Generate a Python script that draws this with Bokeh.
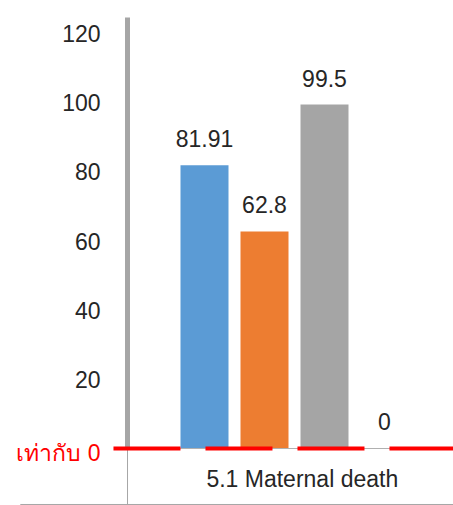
from bokeh.plotting import figure
from bokeh.models import ColumnDataSource, LabelSet, Label, FixedTicker, Range1d
from bokeh.core.properties import value
from bokeh.embed import file_html
from bokeh.resources import INLINE

# Chart data
category = "5.1 Maternal death"
series = ["Series 1", "Series 2", "Series 3", "Series 4"]
values = [81.91, 62.8, 99.5, 0]
colors = ["#5b9bd5", "#ed7d31", "#a5a5a5", "#ffc000"]
y_ticks = [20, 40, 60, 80, 100, 120]
zero_label = "เท่ากับ 0"

FONT = "Liberation Sans"
TEXT_COLOR = "#262626"
AXIS_GRAY = "#a6a6a6"

# the frame fills the whole canvas; axes are pinned inside it
x_start, x_end = -3.4, 4.15
y_start, y_end = -16.49, 129.6
axis_x = -1.283          # where the value axis stands
axis_top = 124.7         # top of the value axis line
cat_center = 1.63        # middle of the category cell
table_y = -16.2          # bottom border of the category cell
table_left = -3.07
zero_line_left = -1.517
zero_label_x = -1.733

src = ColumnDataSource(dict(
    x=list(range(len(values))),
    top=values,
    color=colors,
    label=[f"{v:g}" for v in values],
    name=series,
))

p = figure(width=453, height=505, output_backend="svg", toolbar_location=None,
           x_range=Range1d(x_start, x_end), y_range=Range1d(y_start, y_end),
           min_border_left=0, min_border_right=0, min_border_top=0,
           min_border_bottom=0)
p.outline_line_color = None
p.grid.visible = False
p.background_fill_color = "white"
p.border_fill_color = "white"

p.vbar(x="x", top="top", width=0.8, fill_color="color", line_color=None, source=src)

p.add_layout(LabelSet(x="x", y="top", text="label", source=src,
                      text_align="center", text_baseline="alphabetic", y_offset=18,
                      text_font=value(FONT), text_font_size="23px",
                      text_color=TEXT_COLOR))

# value axis: thick gray line, no tick marks
ya = p.yaxis[0]
ya.fixed_location = axis_x
ya.bounds = (0, axis_top)
ya.ticker = FixedTicker(ticks=y_ticks)
ya.axis_line_width = 5
ya.axis_line_color = AXIS_GRAY
ya.major_tick_line_color = None
ya.minor_tick_line_color = None
ya.major_tick_out = 0
ya.major_label_standoff = 27
ya.major_label_text_font = FONT
ya.major_label_text_font_size = "23px"
ya.major_label_text_color = TEXT_COLOR

# category axis along zero
xa = p.xaxis[0]
xa.fixed_location = 0
xa.bounds = (axis_x, x_end)
xa.ticker = FixedTicker(ticks=[cat_center])
xa.major_label_overrides = {cat_center: category}
xa.axis_line_color = "#b0b0b0"
xa.axis_line_width = 1
xa.major_tick_line_color = None
xa.minor_tick_line_color = None
xa.major_tick_out = 0
xa.major_label_standoff = 18
xa.major_label_text_font = FONT
xa.major_label_text_font_size = "23px"
xa.major_label_text_color = TEXT_COLOR

# category cell borders
p.segment(x0=[axis_x], y0=[0], x1=[axis_x], y1=[y_start],
          line_color=AXIS_GRAY, line_width=1)
p.segment(x0=[table_left], y0=[table_y], x1=[x_end], y1=[table_y],
          line_color=AXIS_GRAY, line_width=1)

# red dashed "equals zero" line and its label
p.segment(x0=[zero_line_left], y0=[0], x1=[x_end], y1=[0],
          line_color="#ff0000", line_width=4, line_dash="67 25", level="overlay")
p.add_layout(Label(x=zero_label_x, y=0, text=zero_label, text_align="right",
                   text_baseline="middle", y_offset=-5, text_color="#ff0000",
                   text_font=FONT, text_font_size="23px"))

open("out.html", "w").write(file_html(p, INLINE))
